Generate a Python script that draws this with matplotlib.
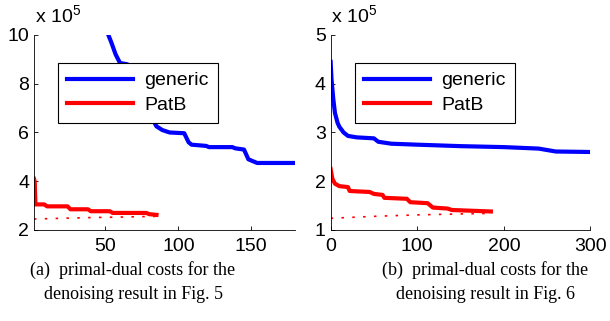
import matplotlib
matplotlib.use("Agg")
import matplotlib.pyplot as plt

# panel (a) -- values in units of 1e5
gen_a_x = [52, 54, 57, 60, 65, 70, 75, 80, 85, 89, 94, 104, 107, 109, 119, 121, 137, 139, 145, 148, 154, 180]
gen_a_y = [10.0, 9.7, 9.2, 8.85, 8.8, 8.5, 7.6, 6.8, 6.25, 6.1, 6.0, 5.97, 5.6, 5.5, 5.45, 5.4, 5.4, 5.35, 5.3, 4.9, 4.75, 4.75]
pat_a_x = [1, 1.5, 2, 8, 10, 24, 26, 38, 40, 53, 55, 78, 80, 85]
pat_a_y = [4.1, 4.0, 3.05, 3.05, 2.97, 2.97, 2.85, 2.85, 2.77, 2.77, 2.7, 2.7, 2.65, 2.62]
dual_a_x = [1, 20, 40, 60, 85]
dual_a_y = [2.45, 2.48, 2.51, 2.53, 2.56]

# panel (b)
gen_b_x = [0, 1, 3, 5, 8, 10, 15, 20, 30, 50, 55, 70, 100, 150, 200, 240, 260, 300]
gen_b_y = [4.45, 4.1, 3.7, 3.4, 3.2, 3.12, 3.0, 2.93, 2.9, 2.88, 2.81, 2.77, 2.75, 2.72, 2.7, 2.67, 2.61, 2.6]
pat_b_x = [0, 2, 5, 10, 20, 22, 45, 50, 60, 62, 88, 92, 112, 118, 135, 140, 185]
pat_b_y = [2.25, 2.05, 1.95, 1.9, 1.88, 1.8, 1.78, 1.74, 1.72, 1.66, 1.64, 1.57, 1.55, 1.46, 1.44, 1.41, 1.38]
dual_b_x = [0, 50, 100, 150, 185]
dual_b_y = [1.24, 1.28, 1.31, 1.33, 1.34]

plt.rcParams['font.family'] = ['Liberation Sans', 'DejaVu Sans']
plt.rcParams['mathtext.fontset'] = 'custom'
plt.rcParams['mathtext.rm'] = 'Liberation Sans'

fig = plt.figure(figsize=(6.10, 3.21), dpi=100)
ax1 = fig.add_axes([0.0557, 0.2835, 0.428, 0.6075])
ax2 = fig.add_axes([0.542, 0.2835, 0.426, 0.6075])

def style(ax):
    for s in ['top', 'right']:
        ax.spines[s].set_visible(False)
    ax.tick_params(direction='in', labelsize=14, length=3, width=0.6)
    ax.tick_params(axis='x', pad=6)
    for s in ['left', 'bottom']:
        ax.spines[s].set_linewidth(0.6)

ax1.plot(gen_a_x, gen_a_y, color='#0000ff', lw=3, label='generic')
ax1.plot(pat_a_x, pat_a_y, color='#ff0000', lw=3, label='PatB')
ax1.plot(dual_a_x, dual_a_y, color='#ff0000', lw=1.2, linestyle=(0, (1.5, 5)))
ax1.set_xlim(1, 180)
ax1.set_ylim(2, 10)
ax1.set_xticks([50, 100, 150])
ax1.set_yticks([2, 4, 6, 8, 10])
style(ax1)

ax2.plot(gen_b_x, gen_b_y, color='#0000ff', lw=3, label='generic')
ax2.plot(pat_b_x, pat_b_y, color='#ff0000', lw=3, label='PatB')
ax2.plot(dual_b_x, dual_b_y, color='#ff0000', lw=1.2, linestyle=(0, (1.5, 5)))
ax2.set_xlim(0, 300)
ax2.set_ylim(1, 5)
ax2.set_xticks([0, 100, 200, 300])
ax2.set_yticks([1, 2, 3, 4, 5])
style(ax2)

for ax, bb in [(ax1, (58, 63)), (ax2, (355, 63))]:
    x0, y0 = bb
    leg = ax.legend(loc='upper left', fontsize=14, handlelength=3.4, frameon=True, fancybox=False,
                    edgecolor='black', framealpha=1, borderpad=0.45, labelspacing=0.35,
                    handletextpad=0.6, borderaxespad=0,
                    bbox_to_anchor=(x0 / 610, 1 - y0 / 321), bbox_transform=fig.transFigure)
    leg.get_frame().set_linewidth(0.8)

fig.text(35 / 610, 1 - 16 / 321, r'x 10$^{5}$', fontsize=14, va='center', ha='left')
fig.text(331 / 610, 1 - 16 / 321, r'x 10$^{5}$', fontsize=14, va='center', ha='left')

cap = dict(family=['Liberation Serif', 'DejaVu Serif'], fontsize=13, ha='center', va='center', linespacing=1.55)
fig.text(133 / 610, 1 - 282 / 321, '(a)  primal-dual costs for the\ndenoising result in Fig. 5', **cap)
fig.text(485 / 610, 1 - 282 / 321, '(b)  primal-dual costs for the\ndenoising result in Fig. 6', **cap)

fig.savefig('out.png', dpi=100)
